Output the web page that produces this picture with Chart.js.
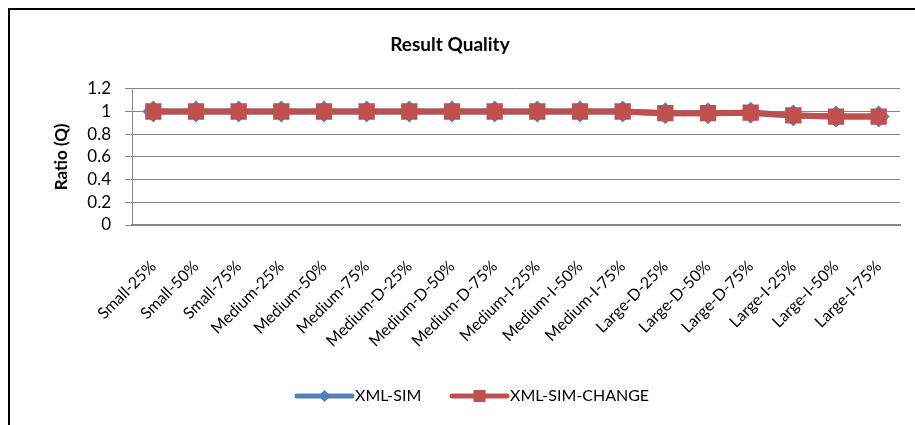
<!DOCTYPE html>
<html>
<head>
<meta charset="utf-8">
<script src="https://cdn.jsdelivr.net/npm/chart.js@4.4.1/dist/chart.umd.min.js"></script>
<style>
	html, body { margin: 0; padding: 0; background: #fff; }
	#wrap { position: relative; width: 915px; height: 425px; }
	#frame { position: absolute; left: 8px; top: 8px; right: -5px; bottom: -5px; border-top: 2px solid #000; border-left: 2px solid #000; }
	canvas { position: absolute; left: 0; top: 0; }
</style>
</head>
<body>
<div id="wrap">
	<div id="frame"></div>
	<canvas id="chart" width="915" height="425"></canvas>
</div>
<script>
// categories on the x axis
const categories = [
	'Small-25%', 'Small-50%', 'Small-75%',
	'Medium-25%', 'Medium-50%', 'Medium-75%',
	'Medium-D-25%', 'Medium-D-50%', 'Medium-D-75%',
	'Medium-I-25%', 'Medium-I-50%', 'Medium-I-75%',
	'Large-D-25%', 'Large-D-50%', 'Large-D-75%',
	'Large-I-25%', 'Large-I-50%', 'Large-I-75%'
];

// series values
const xmlSim = [1, 1, 1, 1, 1, 1, 1, 1, 1, 1, 1, 1, 0.985, 0.985, 0.99, 0.965, 0.955, 0.955];
const xmlSimChange = [1, 1, 1, 1, 1, 1, 1, 1, 1, 1, 1, 1, 0.985, 0.985, 0.99, 0.965, 0.955, 0.955];

const seriesNames = ['XML-SIM', 'XML-SIM-CHANGE'];
const FONT = 'Lato, "Open Sans", sans-serif';
const BLUE = '#4F81BD';
const RED = '#C0504D';

// legend drawn like excel: line with marker in the middle
const excelLegend = {
	id: 'excelLegend',
	afterDraw(chart) {
		const ctx = chart.ctx;
		const y = 396;
		const items = [
			{ ds: chart.data.datasets[0], x: 297 },
			{ ds: chart.data.datasets[1], x: 452 }
		];
		ctx.save();
		items.forEach(it => {
			ctx.strokeStyle = it.ds.borderColor;
			ctx.lineWidth = 5;
			ctx.lineCap = 'round';
			ctx.beginPath();
			ctx.moveTo(it.x, y);
			ctx.lineTo(it.x + 55, y);
			ctx.stroke();
			ctx.fillStyle = it.ds.borderColor;
			const cx = it.x + 27.5;
			if (it.ds.pointStyle === 'rectRot') {
				ctx.beginPath();
				ctx.moveTo(cx, y - 6);
				ctx.lineTo(cx + 6, y);
				ctx.lineTo(cx, y + 6);
				ctx.lineTo(cx - 6, y);
				ctx.closePath();
				ctx.fill();
			} else {
				ctx.fillRect(cx - 6, y - 6, 12, 12);
			}
			ctx.fillStyle = '#000';
			ctx.font = '16px ' + FONT;
			ctx.textBaseline = 'middle';
			ctx.textAlign = 'left';
			ctx.fillText(it.ds.label, it.x + 58, y);
		});
		ctx.restore();
	}
};

new Chart(document.getElementById('chart'), {
	type: 'line',
	data: {
		labels: categories,
		datasets: [
			{
				label: seriesNames[0],
				data: xmlSim,
				borderColor: BLUE,
				backgroundColor: BLUE,
				pointStyle: 'rectRot',
				pointRadius: 11,
				pointBorderWidth: 0,
				borderWidth: 6,
				tension: 0,
				order: 2
			},
			{
				label: seriesNames[1],
				data: xmlSimChange,
				borderColor: RED,
				backgroundColor: RED,
				pointStyle: 'rect',
				pointRadius: 11.5,
				pointBorderWidth: 0,
				borderWidth: 6,
				tension: 0,
				order: 1
			}
		]
	},
	options: {
		responsive: false,
		animation: false,
		layout: { padding: { left: 0, right: 15, top: 0, bottom: 65 } },
		plugins: {
			legend: { display: false },
			tooltip: { enabled: false },
			title: {
				display: true,
				text: 'Result Quality',
				color: '#000',
				font: { family: FONT, size: 19, weight: 'bold' },
				padding: { top: 33, bottom: 33 }
			}
		},
		scales: {
			x: {
				offset: true,
				afterFit: s => { s.height = 135; s.paddingLeft = 0; s.paddingRight = 0; },
				grid: { display: false, drawTicks: false },
				border: { color: '#868686', width: 2 },
				ticks: {
					color: '#000',
					font: { family: FONT, size: 16 },
					minRotation: 45,
					maxRotation: 45,
					autoSkip: false,
					padding: 32
				}
			},
			y: {
				min: 0,
				max: 1.2,
				afterFit: s => { s.width = 132; s.paddingTop = 0; s.paddingBottom = 0; },
				title: {
					display: true,
					text: 'Ratio (Q)',
					color: '#000',
					font: { family: FONT, size: 17, weight: 'bold' },
					padding: { top: 51, bottom: 0 }
				},
				grid: { color: '#868686', lineWidth: 1, tickLength: 7 },
				border: { color: '#868686', width: 1 },
				ticks: {
					stepSize: 0.2,
					autoSkip: false,
					color: '#000',
					font: { family: FONT, size: 17 },
					padding: 14,
					callback: v => String(Math.round(v * 10) / 10)
				}
			}
		}
	},
	plugins: [excelLegend]
});
</script>
</body>
</html>
